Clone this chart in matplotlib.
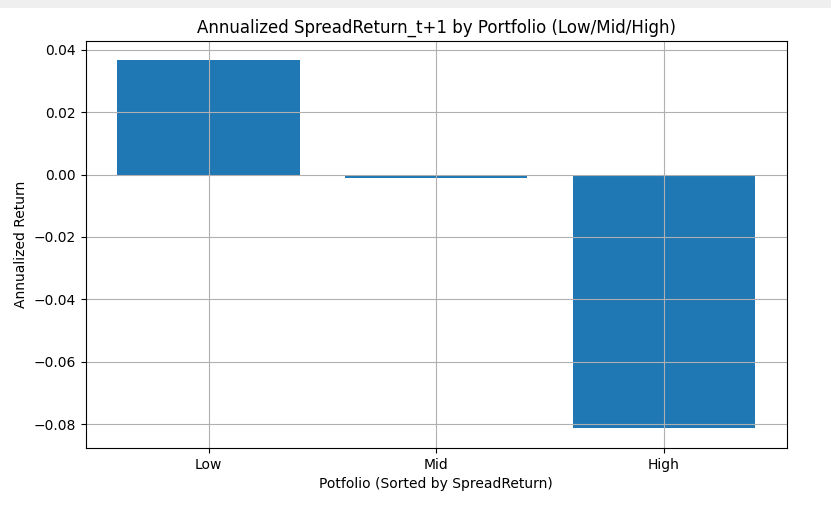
import matplotlib
matplotlib.use("Agg")
import matplotlib.pyplot as plt
from matplotlib.patches import Rectangle

# Portfolio buckets and their annualized next-period spread return
portfolios = ["Low", "Mid", "High"]
annual_returns = [0.0369, -0.0010, -0.0812]

fig = plt.figure(figsize=(8.31, 5.08), dpi=100)
ax = fig.add_axes([0.103, 0.118, 0.844, 0.801])

# light gray strip at top of the screenshot
fig.patches.append(Rectangle((0, 0.985), 1, 0.015, transform=fig.transFigure,
                             facecolor="#efefef", edgecolor="none"))

ax.bar(portfolios, annual_returns, color="#1f77b4")
ax.set_title("Annualized SpreadReturn_t+1 by Portfolio (Low/Mid/High)")
ax.set_xlabel("Potfolio (Sorted by SpreadReturn)")
ax.set_ylabel("Annualized Return")
ax.set_ylim(-0.0877, 0.0428)
ax.grid(True)

fig.savefig("out.png", dpi=100)
